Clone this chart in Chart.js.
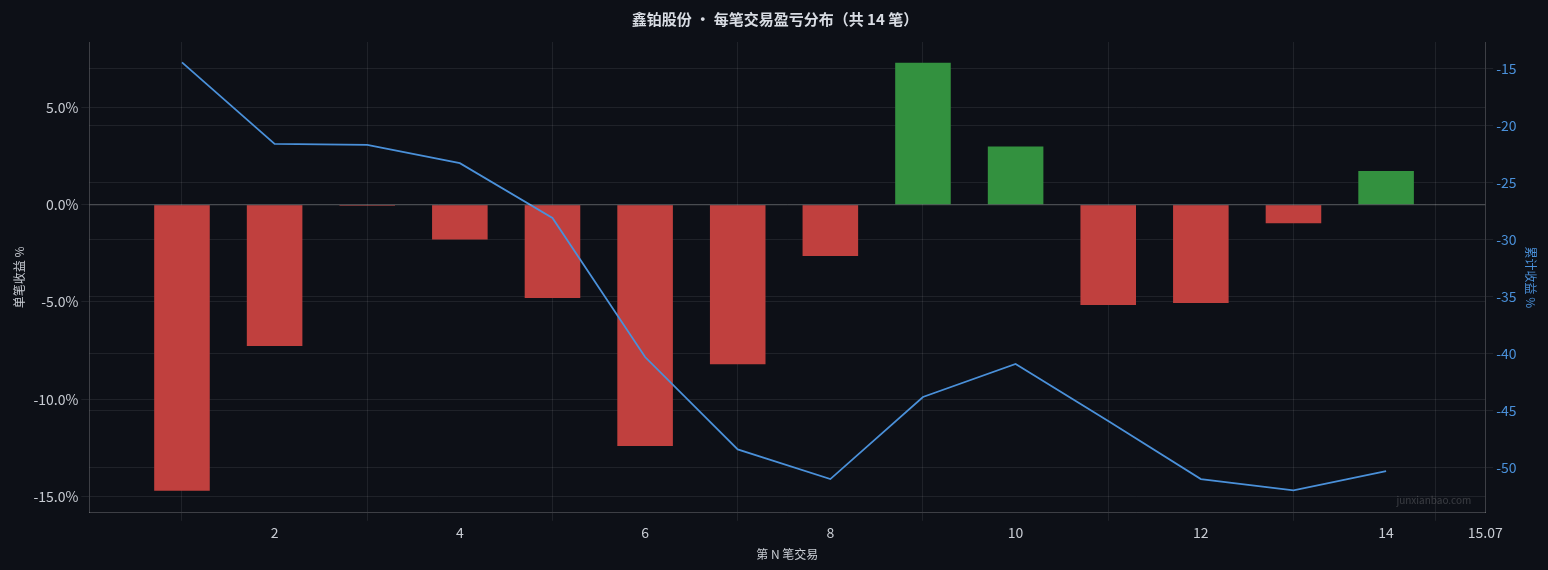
<!DOCTYPE html>
<html>
<head>
<meta charset="utf-8">
<script src="https://cdn.jsdelivr.net/npm/chart.js@4"></script>
<style>
  html, body { margin: 0; padding: 0; background: #0d1017; }
  #wrap { width: 1548px; height: 570px; }
</style>
</head>
<body>
<div id="wrap"><canvas id="chart"></canvas></div>
<script>
const tradeNo = [1, 2, 3, 4, 5, 6, 7, 8, 9, 10, 11, 12, 13, 14];
const tradePct = [-14.7, -7.26, -0.05, -1.79, -4.79, -12.4, -8.2, -2.63, 7.3, 3.0, -5.16, -5.05, -0.95, 1.74];
const cumPct = [-14.46, -21.6, -21.7, -23.3, -28.1, -40.3, -48.4, -51.0, -43.8, -40.9, -45.9, -51.0, -52.0, -50.3];

const font = "'Noto Sans CJK SC', 'Noto Sans', sans-serif";
const gridColor = "rgba(255,255,255,0.08)";

// watermark + zero line
const extras = {
  id: "extras",
  afterDatasetsDraw(c) {
    const ctx = c.ctx, a = c.chartArea, y = c.scales.y;
    ctx.save();
    ctx.strokeStyle = "rgba(255,255,255,0.25)";
    ctx.lineWidth = 1;
    const y0 = y.getPixelForValue(0);
    ctx.beginPath(); ctx.moveTo(a.left, y0); ctx.lineTo(a.right, y0); ctx.stroke();
    ctx.fillStyle = "rgba(255,255,255,0.18)";
    ctx.font = "10px " + font;
    ctx.textAlign = "right";
    ctx.fillText("junxianbao.com", a.right - 14, a.bottom - 9);
    ctx.restore();
  }
};

new Chart(document.getElementById("chart"), {
  data: {
    datasets: [
      {
        type: "line",
        data: tradeNo.map((x, i) => ({ x, y: cumPct[i] })),
        yAxisID: "y2",
        borderColor: "#4a90d9",
        borderWidth: 1.8,
        pointRadius: 0,
        tension: 0
      },
      {
        type: "bar",
        data: tradeNo.map((x, i) => ({ x, y: tradePct[i] })),
        yAxisID: "y",
        backgroundColor: tradePct.map(v => v >= 0 ? "#33913f" : "#c0403e"),
        categoryPercentage: 1,
        barPercentage: 0.6
      }
    ]
  },
  plugins: [extras],
  options: {
    responsive: true,
    maintainAspectRatio: false,
    animation: false,
    layout: { padding: { top: 8, right: 6, left: 8, bottom: 4 } },
    plugins: {
      legend: { display: false },
      tooltip: { enabled: false },
      title: {
        display: true,
        text: "鑫铂股份 · 每笔交易盈亏分布（共 14 笔）",
        color: "#d8dce3",
        font: { family: font, size: 15 },
        padding: { top: 2, bottom: 14 }
      }
    },
    scales: {
      x: {
        type: "linear",
        min: 0,
        max: 15.07,
        offset: false,
        ticks: { stepSize: 2, color: "#c8ccd3", font: { family: font, size: 14 },
          callback: v => v === 0 ? "" : v },
        grid: { color: gridColor },
        border: { color: "rgba(255,255,255,0.2)" },
        title: { display: true, text: "第 N 笔交易", color: "#c8ccd3", font: { family: font, size: 12 } }
      },
      y: {
        position: "left",
        min: -15.84,
        max: 8.37,
        afterBuildTicks: s => { s.ticks = [-15, -10, -5, 0, 5].map(v => ({ value: v })); },
        ticks: { color: "#c8ccd3", font: { family: font, size: 14 }, callback: v => v.toFixed(1) + "%" },
        grid: { color: gridColor },
        border: { color: "rgba(255,255,255,0.2)" },
        title: { display: true, text: "单笔收益 %", color: "#c8ccd3", font: { family: font, size: 12 } }
      },
      y2: {
        position: "right",
        min: -53.96,
        max: -12.67,
        afterBuildTicks: s => { s.ticks = [-50, -45, -40, -35, -30, -25, -20, -15].map(v => ({ value: v })); },
        ticks: { color: "#4a90d9", font: { family: font, size: 14 } },
        grid: { color: gridColor },
        border: { color: "rgba(255,255,255,0.2)" },
        title: { display: true, text: "累计收益 %", color: "#4a90d9", font: { family: font, size: 12 } }
      }
    }
  }
});
</script>
</body>
</html>
